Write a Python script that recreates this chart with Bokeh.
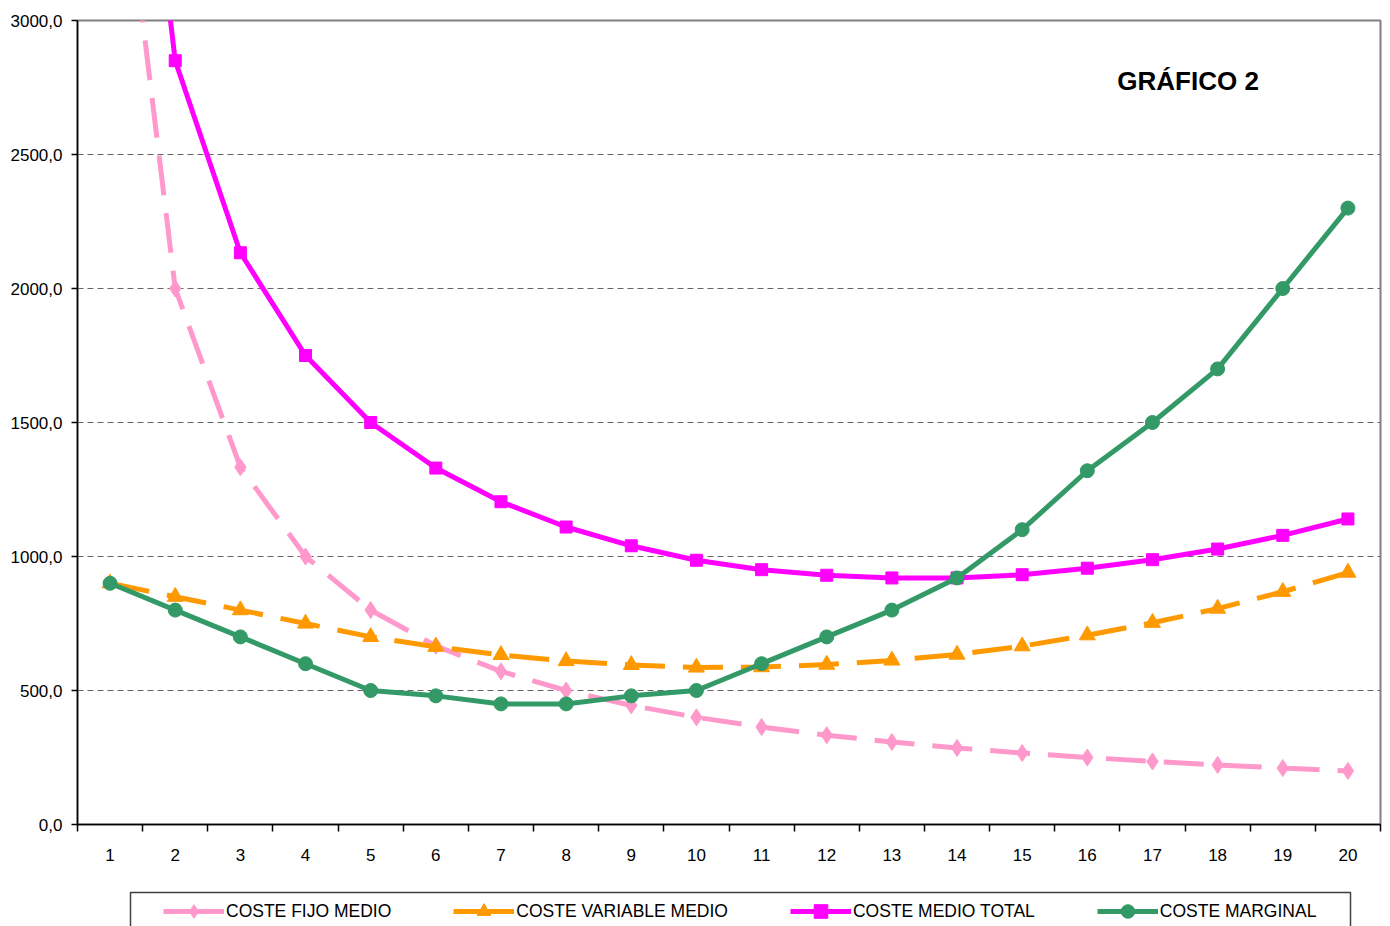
from bokeh.plotting import figure
from bokeh.layouts import column
from bokeh.models import (FixedTicker, Legend, LegendItem, Label, BoxAnnotation,
                          Range1d)
from bokeh.embed import file_html
from bokeh.resources import INLINE

# Output quantity (units produced)
quantity = list(range(1, 21))
quantity_labels = [str(q) for q in quantity]

# Average fixed cost
coste_fijo_medio = [4000.0, 2000.0, 1333.3, 1000.0, 800.0, 666.7, 571.4, 500.0,
                    444.4, 400.0, 363.6, 333.3, 307.7, 285.7, 266.7, 250.0,
                    235.3, 222.2, 210.5, 200.0]
# Average variable cost
coste_variable_medio = [900.0, 850.0, 800.0, 750.0, 700.0, 663.3, 632.9, 610.0,
                        595.6, 586.0, 587.3, 596.7, 612.3, 634.3, 665.3, 706.3,
                        752.9, 805.6, 868.4, 940.0]
# Average total cost
coste_medio_total = [4900.0, 2850.0, 2133.3, 1750.0, 1500.0, 1330.0, 1204.3,
                     1110.0, 1040.0, 986.0, 950.9, 930.0, 920.0, 920.0, 932.0,
                     956.3, 988.2, 1027.8, 1078.9, 1140.0]
# Marginal cost
coste_marginal = [900.0, 800.0, 700.0, 600.0, 500.0, 480.0, 450.0, 450.0, 480.0,
                  500.0, 600.0, 700.0, 800.0, 920.0, 1100.0, 1320.0, 1500.0,
                  1700.0, 2000.0, 2300.0]

series_names = ["COSTE FIJO MEDIO", "COSTE VARIABLE MEDIO", "COSTE MEDIO TOTAL",
                "COSTE MARGINAL"]

y_ticks = [0, 500, 1000, 1500, 2000, 2500, 3000]
y_tick_labels = ["0,0", "500,0", "1000,0", "1500,0", "2000,0", "2500,0", "3000,0"]

FONT = "Liberation Sans"
PINK = "#FF99CC"
ORANGE = "#FF9900"
MAGENTA = "#FF00FF"
GREEN = "#339966"
LW = 5
DASH = "40 18"

styles = [
    dict(color=PINK, dash=DASH, marker="diamond", size=17),
    dict(color=ORANGE, dash=DASH, marker="triangle", size=16),
    dict(color=MAGENTA, dash="solid", marker="square", size=12),
    dict(color=GREEN, dash="solid", marker="circle", size=14),
]
series = [coste_fijo_medio, coste_variable_medio, coste_medio_total,
          coste_marginal]

# ---- main chart -----------------------------------------------------------
p = figure(width=1390, height=870, output_backend="svg", toolbar_location=None,
           x_range=Range1d(0.5, 20.5), y_range=Range1d(0, 3000),
           min_border_left=77, min_border_right=10, min_border_top=20,
           min_border_bottom=46)
p.background_fill_color = "white"
p.border_fill_color = "white"
p.outline_line_color = "#808080"
p.outline_line_width = 2

# Category axis: labels centred, tick marks between categories
xa = p.xaxis[0]
xa.ticker = FixedTicker(ticks=quantity,
                        minor_ticks=[q - 0.5 for q in quantity] + [20.5])
xa.major_label_overrides = {q: lab for q, lab in zip(quantity, quantity_labels)}
xa.major_tick_line_color = None
xa.major_tick_out = 0
xa.major_tick_in = 0
xa.minor_tick_line_color = "black"
xa.minor_tick_line_width = 1.5
xa.minor_tick_out = 7
xa.minor_tick_in = 0
xa.axis_line_color = "black"
xa.axis_line_width = 1.5
xa.major_label_standoff = 17
xa.major_label_text_font = FONT
xa.major_label_text_font_size = "17px"
xa.major_label_text_color = "black"

ya = p.yaxis[0]
ya.ticker = FixedTicker(ticks=y_ticks)
ya.major_label_overrides = {t: lab for t, lab in zip(y_ticks, y_tick_labels)}
ya.major_tick_line_color = "black"
ya.major_tick_line_width = 1.5
ya.major_tick_out = 6
ya.major_tick_in = 0
ya.minor_tick_line_color = None
ya.axis_line_color = "black"
ya.axis_line_width = 1.5
ya.major_label_standoff = 9
ya.major_label_text_font = FONT
ya.major_label_text_font_size = "17px"
ya.major_label_text_color = "black"

p.xgrid.visible = False
p.ygrid.ticker = FixedTicker(ticks=[500, 1000, 1500, 2000, 2500])
p.ygrid.grid_line_color = "#666666"
p.ygrid.grid_line_dash = "6 4"
p.ygrid.grid_line_width = 1

for values, st in zip(series, styles):
    p.line(quantity, values, line_color=st["color"], line_width=LW,
           line_dash=st["dash"])
    p.scatter(quantity, values, marker=st["marker"], size=st["size"],
              fill_color=st["color"], line_color=st["color"])

title = Label(x=16.46, y=2776, text="GRÁFICO 2", text_font=FONT,
              text_font_size="26px", text_font_style="bold",
              text_baseline="middle", text_color="black")
p.add_layout(title)

# ---- legend strip ---------------------------------------------------------
# The strip's frame lines up with the chart frame above, so its x range is
# given in page pixels over that frame. The series drawn here fall outside
# the visible strip and only serve as the legend's glyph sources.
q = figure(width=1390, height=56, output_backend="svg", toolbar_location=None,
           x_range=Range1d(77, 1380), y_range=Range1d(56, 0),
           x_axis_type=None, y_axis_type=None, min_border=0,
           min_border_left=0, min_border_right=0, min_border_top=0,
           min_border_bottom=0)
q.grid.visible = False
q.outline_line_color = None
q.background_fill_color = "white"
q.border_fill_color = "white"

items = []
for name, values, st in zip(series_names, series, styles):
    lr = q.line(quantity, values, line_color=st["color"], line_width=LW)
    mr = q.scatter(quantity, values, marker=st["marker"], size=st["size"],
                   fill_color=st["color"], line_color=st["color"])
    items.append(LegendItem(label=name, renderers=[lr, mr]))

legend = Legend(items=items, orientation="horizontal", location=(86, -2),
                glyph_width=61, glyph_height=34, label_height=20,
                label_standoff=2, spacing=62, padding=8, margin=0,
                label_text_font=FONT, label_text_font_size="17.5px",
                label_text_color="black", border_line_color=None,
                background_fill_alpha=0)
q.add_layout(legend, "center")

legend_box = BoxAnnotation(left=130, right=1350, top=22, bottom=90,
                           fill_alpha=0, line_color="#404040", line_width=1.5,
                           line_alpha=1)
q.add_layout(legend_box)

layout = column(p, q, spacing=0)
open("out.html", "w").write(file_html(layout, INLINE))
